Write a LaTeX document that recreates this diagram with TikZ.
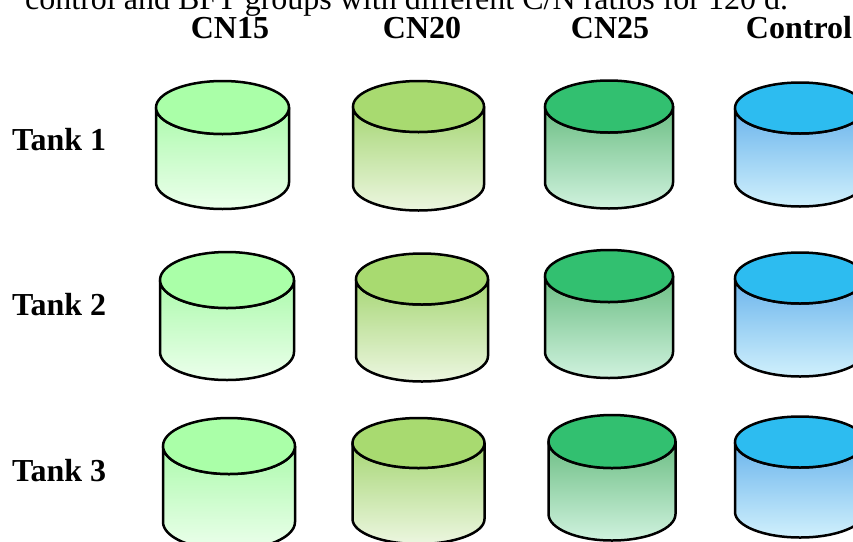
\documentclass[tikz,border=0pt]{standalone}
\usepackage{fontspec}
\setmainfont{Liberation Serif}
\begin{document}
\begin{tikzpicture}[x=1pt,y=-1pt,
  tankline/.style={draw=black, line width=2.5pt, line join=round},
  head/.style={font=\fontsize{32}{36}\selectfont\bfseries, inner sep=0pt},
  caption/.style={font=\fontsize{32}{36}\selectfont, inner sep=0pt}]
\definecolor{cnAtop}{RGB}{170,255,168}
\definecolor{cnAhi}{RGB}{172,250,172}
\definecolor{cnAlo}{RGB}{236,255,236}
\definecolor{cnBtop}{RGB}{168,218,112}
\definecolor{cnBhi}{RGB}{166,214,116}
\definecolor{cnBlo}{RGB}{236,246,224}
\definecolor{cnCtop}{RGB}{50,192,112}
\definecolor{cnChi}{RGB}{108,190,132}
\definecolor{cnClo}{RGB}{208,242,222}
\definecolor{ctltop}{RGB}{45,188,240}
\definecolor{ctlhi}{RGB}{106,180,236}
\definecolor{ctllo}{RGB}{208,240,252}
% #1 cx, #2 top-centre y, #3 rx, #4 ry, #5 bottom-centre y, #6 colour prefix
\newcommand\tankcyl[6]{%
  \path[tankline, top color=#6hi, bottom color=#6lo]
    (#1-#3,#2) -- (#1-#3,#5)
    arc[start angle=180, end angle=360, x radius=#3pt, y radius=#4pt]
    -- (#1+#3,#2)
    arc[start angle=0, end angle=-180, x radius=#3pt, y radius=#4pt] -- cycle;
  \path[tankline, fill=#6top] (#1,#2) ellipse[x radius=#3pt, y radius=#4pt];
}
\useasboundingbox (0,0) rectangle (853,541);
\clip (0,0) rectangle (853,541);

\node[caption, anchor=base west] (cap) at (25,9) {control and BFT groups with different C/N ratios for 120 d.};

\node[head, anchor=base] (h15) at (230,38) {CN15};
\node[head, anchor=base] (h20) at (422,38) {CN20};
\node[head, anchor=base] (h25) at (610,38) {CN25};
\node[head, anchor=base] (hct) at (799,38) {Control};

\node[head, anchor=base west] (t1) at (12,150) {Tank 1};
\node[head, anchor=base west] (t2) at (12,315) {Tank 2};
\node[head, anchor=base west] (t3) at (12,481) {Tank 3};

% Tank 1
\tankcyl{222.5}{107.5}{66.5}{26.5}{182.5}{cnA}
\tankcyl{418.5}{106.5}{65.5}{25.5}{185}{cnB}
\tankcyl{609}{106.5}{64}{26}{182.5}{cnC}
\tankcyl{800}{108}{65}{25.5}{181}{ctl}
% Tank 2
\tankcyl{227}{280}{67}{28}{352}{cnA}
\tankcyl{422}{279}{66}{25.5}{356}{cnB}
\tankcyl{609}{276}{64}{26}{352}{cnC}
\tankcyl{800}{278}{65}{25.5}{351}{ctl}
% Tank 3
\tankcyl{229}{446}{66}{28}{522}{cnA}
\tankcyl{418.5}{443}{66}{25}{519}{cnB}
\tankcyl{612}{441.5}{63.5}{26.5}{514}{cnC}
\tankcyl{800}{442}{65}{25.5}{512}{ctl}
\end{tikzpicture}
\end{document}
